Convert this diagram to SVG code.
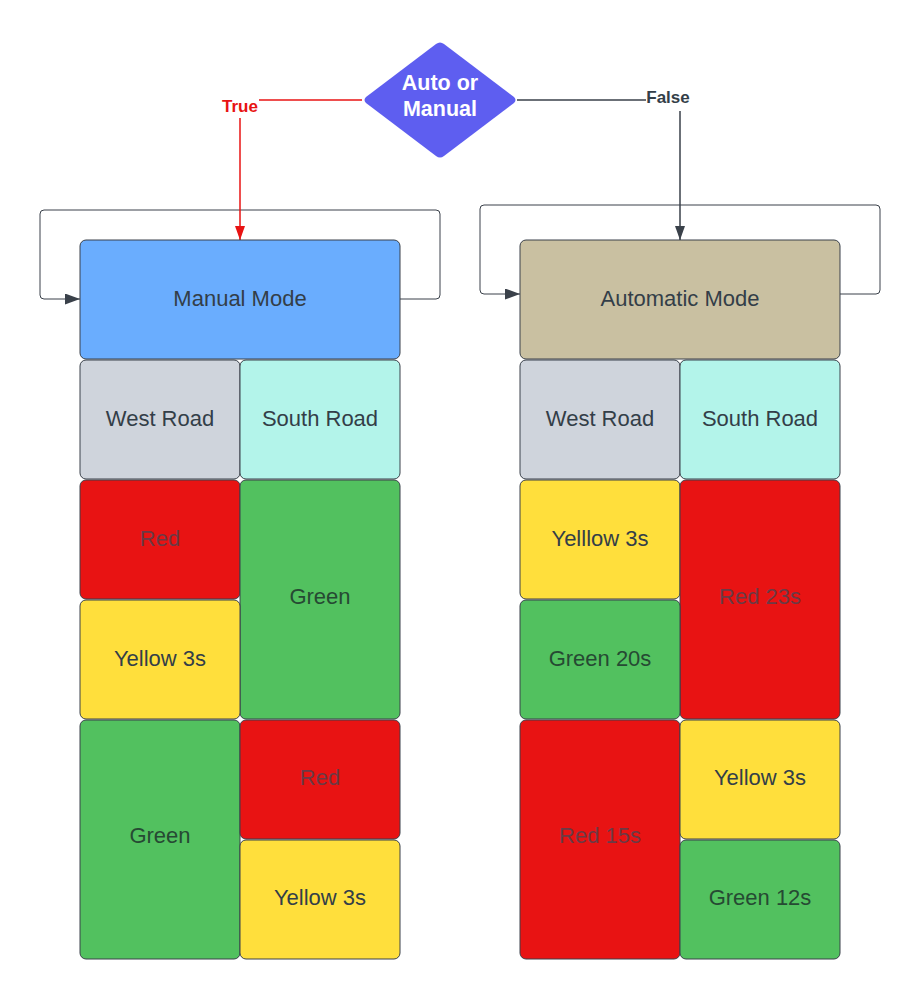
<svg xmlns="http://www.w3.org/2000/svg" width="922" height="999" viewBox="0 0 922 999">
<style>
.cell{stroke:#3a414a;stroke-width:1;}
.t{font-family:"Liberation Sans",Arial,sans-serif;font-size:22px;fill:#333e48;text-anchor:middle;dominant-baseline:central;}
.d{font-family:"Liberation Sans",Arial,sans-serif;font-size:21.5px;font-weight:bold;fill:#ffffff;text-anchor:middle;}
.lbl{font-family:"Liberation Sans",Arial,sans-serif;font-size:17px;font-weight:bold;text-anchor:middle;dominant-baseline:central;}
.conn{fill:none;stroke-width:1.5;}
.loop{fill:none;stroke:#3a414a;stroke-width:1;}
.blue{fill:#6aadfe}.tan{fill:#c9c0a1}.gray{fill:#cfd4dc}.cyan{fill:#b3f4ea}.red{fill:#e81313}.green{fill:#52c15f}.yellow{fill:#ffdf3c}
</style>
<defs>
<marker id="ar" viewBox="0 0 14 10" refX="14" refY="5" markerWidth="14" markerHeight="10" markerUnits="userSpaceOnUse" orient="auto"><path d="M0,0 L14,5 L0,10 z" fill="#e81313"/></marker>
<marker id="ad" viewBox="0 0 14 10" refX="14" refY="5" markerWidth="14" markerHeight="10" markerUnits="userSpaceOnUse" orient="auto"><path d="M0,0 L14,5 L0,10 z" fill="#3a414a"/></marker>
<marker id="ak" viewBox="0 0 15 11" refX="15" refY="5.5" markerWidth="15" markerHeight="11" markerUnits="userSpaceOnUse" orient="auto"><path d="M0,0 L15,5.5 L0,11 z" fill="#3a414a"/></marker>
</defs>
<rect width="922" height="999" fill="#ffffff"/>
<g id="connectors">
<path class="loop" d="M400,299 H436 Q440,299 440,295 V214 Q440,210 436,210 H44 Q40,210 40,214 V295 Q40,299 44,299 H80" marker-end="url(#ak)"/>
<path class="loop" d="M840,294 H876 Q880,294 880,290 V209 Q880,205 876,205 H484 Q480,205 480,209 V290 Q480,294 484,294 H520" marker-end="url(#ak)"/>
<path class="conn" stroke="#e81313" d="M362,100 H259"/>
<path class="conn" stroke="#e81313" d="M240,118 V240" marker-end="url(#ar)"/>
<path class="conn" stroke="#3a414a" d="M517,100 H646"/>
<path class="conn" stroke="#3a414a" d="M680,111 V240" marker-end="url(#ad)"/>
<text class="lbl" x="240" y="106" fill="#e81313">True</text>
<text class="lbl" x="668" y="97" fill="#333e48">False</text>
</g>
<g id="decision">
<path d="M436,44 Q440,41 444,44 L514,97 Q517,100 514,103 L444,156 Q440,159 436,156 L366,103 Q363,100 366,97 Z" fill="#5e5ef0"/>
<text class="d" x="440" y="90">Auto or</text>
<text class="d" x="440" y="116">Manual</text>
</g>
<g id="manual-mode"><rect class="cell blue" x="80" y="240" width="320" height="119" rx="6"/><text class="t" x="240" y="298">Manual Mode</text></g>
<g id="m-west"><rect class="cell gray" x="80" y="360" width="160" height="119" rx="6"/><text class="t" x="160" y="418">West Road</text></g>
<g id="m-south"><rect class="cell cyan" x="240" y="360" width="160" height="119" rx="6"/><text class="t" x="320" y="418">South Road</text></g>
<g id="m-w-red"><rect class="cell red" x="80" y="480" width="160" height="119" rx="6"/><text class="t" x="160" y="538" style="fill:#6b3a45">Red</text></g>
<g id="m-s-green"><rect class="cell green" x="240" y="480" width="160" height="239" rx="6"/><text class="t" x="320" y="596" style="fill:#264a33">Green</text></g>
<g id="m-w-yellow"><rect class="cell yellow" x="80" y="600" width="160" height="119" rx="6"/><text class="t" x="160" y="658">Yellow 3s</text></g>
<g id="m-w-green"><rect class="cell green" x="80" y="720" width="160" height="239" rx="6"/><text class="t" x="160" y="835" style="fill:#264a33">Green</text></g>
<g id="m-s-red"><rect class="cell red" x="240" y="720" width="160" height="119" rx="6"/><text class="t" x="320" y="777" style="fill:#6b3a45">Red</text></g>
<g id="m-s-yellow"><rect class="cell yellow" x="240" y="840" width="160" height="119" rx="6"/><text class="t" x="320" y="897">Yellow 3s</text></g>
<g id="auto-mode"><rect class="cell tan" x="520" y="240" width="320" height="119" rx="6"/><text class="t" x="680" y="298">Automatic Mode</text></g>
<g id="a-west"><rect class="cell gray" x="520" y="360" width="160" height="119" rx="6"/><text class="t" x="600" y="418">West Road</text></g>
<g id="a-south"><rect class="cell cyan" x="680" y="360" width="160" height="119" rx="6"/><text class="t" x="760" y="418">South Road</text></g>
<g id="a-w-yellow"><rect class="cell yellow" x="520" y="480" width="160" height="119" rx="6"/><text class="t" x="600" y="538">Yelllow 3s</text></g>
<g id="a-s-red"><rect class="cell red" x="680" y="480" width="160" height="239" rx="6"/><text class="t" x="760" y="596" style="fill:#6b3a45">Red 23s</text></g>
<g id="a-w-green"><rect class="cell green" x="520" y="600" width="160" height="119" rx="6"/><text class="t" x="600" y="658" style="fill:#264a33">Green 20s</text></g>
<g id="a-w-red"><rect class="cell red" x="520" y="720" width="160" height="239" rx="6"/><text class="t" x="600" y="835" style="fill:#6b3a45">Red 15s</text></g>
<g id="a-s-yellow"><rect class="cell yellow" x="680" y="720" width="160" height="119" rx="6"/><text class="t" x="760" y="777">Yellow 3s</text></g>
<g id="a-s-green"><rect class="cell green" x="680" y="840" width="160" height="119" rx="6"/><text class="t" x="760" y="897" style="fill:#264a33">Green 12s</text></g>
</svg>
